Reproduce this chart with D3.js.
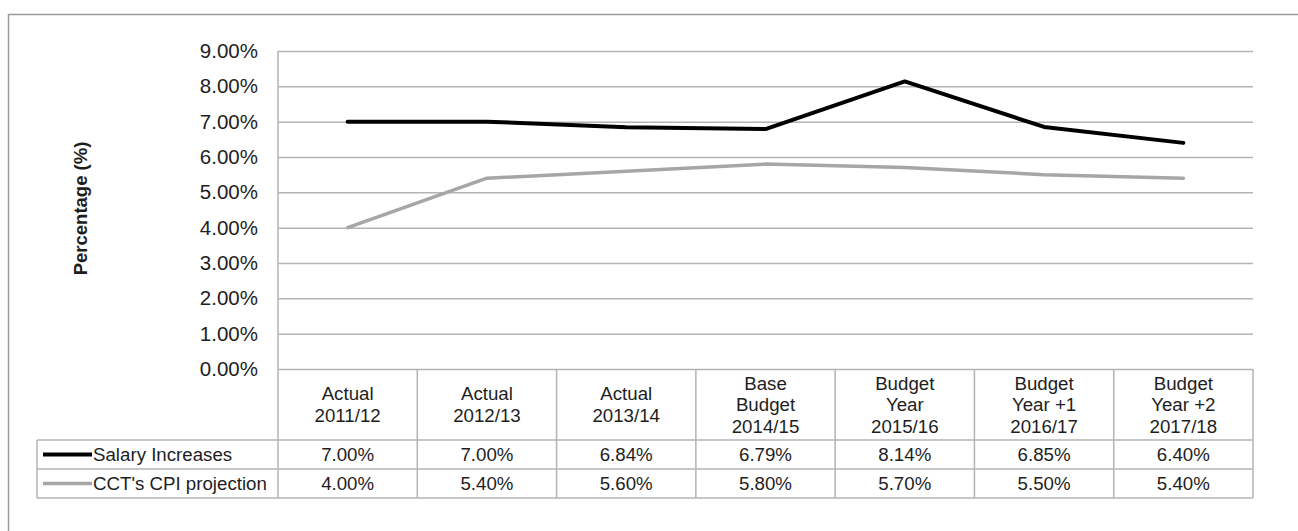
<!DOCTYPE html>
<html>
<head>
<meta charset="utf-8">
<script src="https://cdn.jsdelivr.net/npm/d3@7"></script>
<style>
  html, body { margin: 0; padding: 0; background: #fff; }
  svg { display: block; font-family: Arial, "Liberation Sans", sans-serif; }
</style>
</head>
<body>
<svg id="chart" width="1298" height="531"></svg>
<script>
// Category headers (one entry per line of the header cell)
const categories = [
  ["Actual", "2011/12"],
  ["Actual", "2012/13"],
  ["Actual", "2013/14"],
  ["Base", "Budget", "2014/15"],
  ["Budget", "Year", "2015/16"],
  ["Budget", "Year +1", "2016/17"],
  ["Budget", "Year +2", "2017/18"]
];
const salaryIncreases = [7.00, 7.00, 6.84, 6.79, 8.14, 6.85, 6.40];
const cpiProjection   = [4.00, 5.40, 5.60, 5.80, 5.70, 5.50, 5.40];
const seriesNames = ["Salary Increases", "CCT's CPI projection"];
const yTicks = [0, 1, 2, 3, 4, 5, 6, 7, 8, 9];
const yTitle = "Percentage (%)";

const svg = d3.select("#chart");
const plot = { left: 278, right: 1253, top: 51, bottom: 369 };
const tableRows = [369, 440, 469, 498];
const legendLeft = 37;
const tableFont = 18.7;

const series = [
  { name: seriesNames[0], values: salaryIncreases, color: "#000000", width: 4 },
  { name: seriesNames[1], values: cpiProjection, color: "#a6a6a6", width: 3.5 }
];

const x = d3.scaleBand()
  .domain(d3.range(categories.length))
  .range([plot.left, plot.right])
  .padding(0);
const y = d3.scaleLinear().domain([0, 9]).range([plot.bottom, plot.top]);

const gridColor = "#b4b4b4";
const textColor = "#1e1e1e";

// outer frame
svg.append("rect")
  .attr("x", 8.5).attr("y", 14.5)
  .attr("width", 1310).attr("height", 540)
  .attr("fill", "none").attr("stroke", "#9a9a9a").attr("stroke-width", 1.5);

// gridlines
const grid = svg.append("g")
  .attr("transform", `translate(${plot.left},0)`)
  .call(d3.axisLeft(y).tickValues(yTicks).tickSize(-(plot.right - plot.left)).tickFormat(""));
grid.select(".domain").remove();
grid.selectAll(".tick line").attr("stroke", gridColor).attr("stroke-width", 1.5);

// y axis labels
const yAxis = svg.append("g")
  .attr("transform", `translate(${plot.left},0)`)
  .call(d3.axisLeft(y).tickValues(yTicks).tickSize(0).tickPadding(20)
    .tickFormat(d => d3.format(".2f")(d) + "%"));
yAxis.select(".domain").remove();
yAxis.selectAll("text")
  .attr("font-size", 20.5).attr("fill", textColor)
  .attr("font-family", "Arial, 'Liberation Sans', sans-serif");

// y axis line
svg.append("line")
  .attr("x1", plot.left).attr("x2", plot.left)
  .attr("y1", plot.top).attr("y2", tableRows[3])
  .attr("stroke", gridColor).attr("stroke-width", 1.5);

// y title
svg.append("text")
  .attr("transform", `translate(87,${(145 + 272) / 2}) rotate(-90)`)
  .attr("text-anchor", "middle")
  .attr("font-size", 18.5).attr("font-weight", "bold").attr("fill", textColor)
  .text(yTitle);

// data table grid
const table = svg.append("g").attr("stroke", gridColor).attr("stroke-width", 1.5);
table.append("line").attr("x1", legendLeft).attr("x2", plot.right)
  .attr("y1", tableRows[1]).attr("y2", tableRows[1]);
table.append("line").attr("x1", legendLeft).attr("x2", plot.right)
  .attr("y1", tableRows[2]).attr("y2", tableRows[2]);
table.append("line").attr("x1", legendLeft).attr("x2", plot.right)
  .attr("y1", tableRows[3]).attr("y2", tableRows[3]);
table.append("line").attr("x1", legendLeft).attr("x2", legendLeft)
  .attr("y1", tableRows[1]).attr("y2", tableRows[3]);
const bounds = d3.range(categories.length).map(i => x(i)).concat([plot.right]);
table.selectAll(".vline").data(bounds.slice(1)).join("line")
  .attr("class", "vline")
  .attr("x1", d => d).attr("x2", d => d)
  .attr("y1", tableRows[0]).attr("y2", tableRows[3]);

// header cells
const lineH = 21.5;
const headerMid = (tableRows[0] + tableRows[1]) / 2;
categories.forEach((lines, i) => {
  const t = svg.append("text")
    .attr("text-anchor", "middle")
    .attr("font-size", tableFont).attr("fill", textColor);
  lines.forEach((ln, k) => {
    t.append("tspan")
      .attr("x", x(i) + x.bandwidth() / 2)
      .attr("y", headerMid + (k - (lines.length - 1) / 2) * lineH)
      .attr("dy", "0.35em")
      .text(ln);
  });
});

// value rows and legend keys
series.forEach((s, r) => {
  const mid = (tableRows[r + 1] + tableRows[r + 2]) / 2;
  svg.append("line")
    .attr("x1", 43).attr("x2", 92)
    .attr("y1", mid).attr("y2", mid)
    .attr("stroke", s.color).attr("stroke-width", s.width);
  svg.append("text")
    .attr("x", 93).attr("y", mid).attr("dy", "0.35em")
    .attr("font-size", tableFont).attr("fill", textColor)
    .text(s.name);
  svg.selectAll(null).data(s.values).join("text")
    .attr("x", (d, i) => x(i) + x.bandwidth() / 2)
    .attr("y", mid).attr("dy", "0.35em")
    .attr("text-anchor", "middle")
    .attr("font-size", tableFont).attr("fill", textColor)
    .text(d => d3.format(".2f")(d) + "%");
});

// series lines
const line = d3.line()
  .x((d, i) => x(i) + x.bandwidth() / 2)
  .y(d => y(d));
[...series].reverse().forEach(s => {
  svg.append("path")
    .datum(s.values)
    .attr("d", line)
    .attr("fill", "none")
    .attr("stroke", s.color)
    .attr("stroke-width", s.width)
    .attr("stroke-linecap", "round")
    .attr("stroke-linejoin", "round");
});
</script>
</body>
</html>
